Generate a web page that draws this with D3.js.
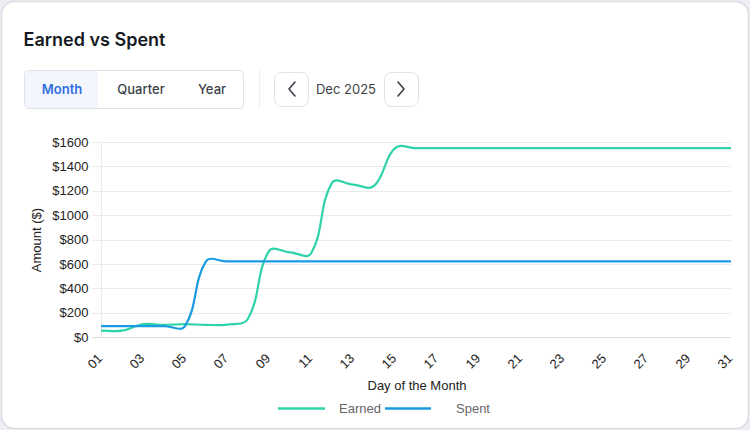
<!DOCTYPE html>
<html><head><meta charset="utf-8">
<script src="https://cdn.jsdelivr.net/npm/d3@7"></script>
<style>
html,body{margin:0;padding:0;background:#eceef3;}
body{width:750px;height:430px;overflow:hidden;}
svg{display:block;}
</style></head>
<body>
<svg id="c" width="750" height="430"></svg>
<script>
const days = d3.range(1, 32);
const tickDays = d3.range(1, 32, 2);
const earned = [52,52,105,100,105,100,102,150,705,695,685,1265,1250,1240,1550,1550,1550,1550,1550,1550,1550,1550,1550,1550,1550,1550,1550,1550,1550,1550,1550];
const spent = [90,90,90,90,90,620,620,620,620,620,620,620,620,620,620,620,620,620,620,620,620,620,620,620,620,620,620,620,620,620,620];
const yTicks = [0,200,400,600,800,1000,1200,1400,1600];
const seriesNames = ["Earned","Spent"];
const seriesColors = ["#2fd3a9","#1a9be2"];
const periods = ["Month","Quarter","Year"];

const svg = d3.select("#c");
// card
svg.append("rect").attr("x",1.5).attr("y",1.5).attr("width",747).attr("height",427).attr("rx",13)
  .attr("fill","#fff").attr("stroke","#dcdde3").attr("stroke-width",1.5);

const ui = "Inter, 'Noto Sans', sans-serif";
svg.append("text").attr("x",23.5).attr("y",45.5).text("Earned vs Spent")
  .attr("font-family",ui).attr("font-size",18).attr("font-weight",600).attr("fill","#161a22");

// segmented control
const seg = svg.append("g");
seg.append("rect").attr("x",24.5).attr("y",70.5).attr("width",219).attr("height",38).attr("rx",4)
  .attr("fill","#fff").attr("stroke","#dfe2e8");
seg.append("rect").attr("x",25).attr("y",71).attr("width",73).attr("height",37).attr("rx",3).attr("fill","#f3f6fc");
const segX = [62,141,212];
periods.forEach((p,i)=>{
  seg.append("text").attr("x",segX[i]).attr("y",94).attr("text-anchor","middle").text(p)
    .attr("font-family",ui).attr("font-size",13).attr("font-weight",i===0?600:500)
    .attr("fill",i===0?"#2f6fdf":"#3b3f48");
});
svg.append("line").attr("x1",259.5).attr("x2",259.5).attr("y1",70).attr("y2",109).attr("stroke","#eceef2");
[[274,"M295,82 L289,89 L295,96"],[384,"M398,82 L404,89 L398,96"]].forEach(([x,d])=>{
  svg.append("rect").attr("x",x+0.5).attr("y",72.5).attr("width",34).attr("height",34).attr("rx",7)
    .attr("fill","#fff").attr("stroke","#dfe2e8");
  svg.append("path").attr("d",d).attr("fill","none").attr("stroke","#3b3f48").attr("stroke-width",1.6)
    .attr("stroke-linecap","round").attr("stroke-linejoin","round");
});
svg.append("text").attr("x",346).attr("y",94).attr("text-anchor","middle").text("Dec 2025")
  .attr("font-family",ui).attr("font-size",13).attr("fill","#3b3f48");

// chart
const cf = "'Liberation Sans', Arial, sans-serif";
const x = d3.scaleLinear().domain([1,31]).range([101,731]);
const y = d3.scaleLinear().domain([0,1600]).range([337,142]);

const grid = svg.append("g");
grid.selectAll("line").data(yTicks).join("line")
  .attr("x1",92).attr("x2",731).attr("y1",d=>Math.round(y(d))+0.5).attr("y2",d=>Math.round(y(d))+0.5)
  .attr("stroke",d=>d===0?"#dcdcdc":"#ebebeb").attr("stroke-width",1);
grid.append("line").attr("x1",101.5).attr("x2",101.5).attr("y1",142).attr("y2",337).attr("stroke","#ebebeb");

const yAxis = svg.append("g").attr("transform","translate(101,0)")
  .call(d3.axisLeft(y).tickValues(yTicks).tickFormat(d=>"$"+d).tickSize(0).tickPadding(12.5));
yAxis.select(".domain").remove();
yAxis.selectAll("text").attr("font-family",cf).attr("font-size",13).attr("fill","#222");

const xAxis = svg.append("g").attr("transform","translate(0,337)")
  .call(d3.axisBottom(x).tickValues(tickDays).tickFormat(d=>String(d).padStart(2,"0")).tickSize(0));
xAxis.select(".domain").remove();
xAxis.selectAll("text").attr("font-family",cf).attr("font-size",13).attr("fill","#222")
  .attr("text-anchor","end").attr("dy","0.35em")
  .attr("transform",d=>"translate(-1.5,19) rotate(-45)").attr("y",0).attr("x",0);

svg.append("text").attr("transform","translate(41,240) rotate(-90)").attr("text-anchor","middle")
  .text("Amount ($)").attr("font-family",cf).attr("font-size",13).attr("fill","#222");
svg.append("text").attr("x",417).attr("y",390).attr("text-anchor","middle")
  .text("Day of the Month").attr("font-family",cf).attr("font-size",13).attr("fill","#222");

// Chart.js-like spline curve
function ChartSpline(context){ this._context = context; this._t = 0.4; }
ChartSpline.prototype = {
  areaStart(){}, areaEnd(){},
  lineStart(){ this._pts = []; },
  point(px,py){ this._pts.push([+px,+py]); },
  lineEnd(){
    const p = this._pts, n = p.length, t = this._t, c = this._context;
    const cps = p.map((cur,i)=>{
      const prev = p[i-1]||cur, next = p[i+1]||cur;
      const d01 = Math.hypot(cur[0]-prev[0],cur[1]-prev[1]);
      const d12 = Math.hypot(next[0]-cur[0],next[1]-cur[1]);
      let s01 = d01/(d01+d12), s12 = d12/(d01+d12);
      if(!isFinite(s01)) s01=0; if(!isFinite(s12)) s12=0;
      const fa=t*s01, fb=t*s12;
      return {pv:[cur[0]-fa*(next[0]-prev[0]), cur[1]-fa*(next[1]-prev[1])],
              nx:[cur[0]+fb*(next[0]-prev[0]), cur[1]+fb*(next[1]-prev[1])]};
    });
    c.moveTo(p[0][0],p[0][1]);
    for(let i=1;i<n;i++){
      c.bezierCurveTo(cps[i-1].nx[0],cps[i-1].nx[1],cps[i].pv[0],cps[i].pv[1],p[i][0],p[i][1]);
    }
  }
};
const spline = ctx => new ChartSpline(ctx);

const seriesData = [earned, spent];
seriesData.forEach((vals,si)=>{
  const line = d3.line().x((d,i)=>x(days[i])).y(d=>y(d)).curve(spline);
  svg.append("path").datum(vals).attr("d",line).attr("fill","none")
    .attr("stroke",seriesColors[si]).attr("stroke-width",2.2).attr("stroke-linejoin","round");
});

// legend
const legX = [[278,325,339],[385,431,456]];
seriesNames.forEach((s,i)=>{
  svg.append("line").attr("x1",legX[i][0]).attr("x2",legX[i][1]).attr("y1",408.5).attr("y2",408.5)
    .attr("stroke",seriesColors[i]).attr("stroke-width",2.5);
  svg.append("text").attr("x",legX[i][2]).attr("y",413).text(s)
    .attr("font-family",cf).attr("font-size",13).attr("fill","#666");
});
</script>
</body></html>
